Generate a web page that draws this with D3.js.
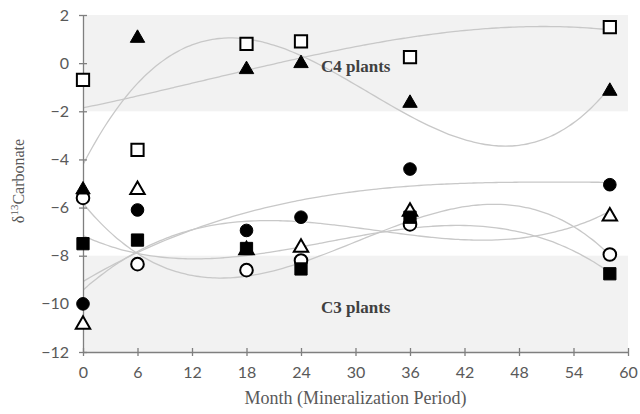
<!DOCTYPE html>
<html>
<head>
<meta charset="utf-8">
<title>d13 Carbonate</title>
<script src="https://cdn.jsdelivr.net/npm/d3@7"></script>
<style>
  body { margin: 0; background: #fff; }
</style>
</head>
<body>
<div id="chart"></div>
<script>

// months of sampling
var months = [0, 6, 18, 24, 36, 58];

// d13C values, one array per series
var openSquares    = [-0.7, -3.6, 0.8, 0.9, 0.25, 1.5];
var filledTriangle = [-5.2, 1.1, -0.2, 0.05, -1.6, -1.1];
var filledCircles  = [-10.0, -6.1, -6.95, -6.4, -4.4, -5.05];
var openCircles    = [-5.6, -8.35, -8.6, -8.2, -6.7, -7.95];
var filledSquares  = [-7.5, -7.35, -7.7, -8.55, -6.4, -8.75];
var openTriangles  = [-10.8, -5.2, -7.7, -7.6, -6.1, -6.3];  // month 18 sits under the filled square

var xTicks = [0, 6, 12, 18, 24, 30, 36, 42, 48, 54, 60];
var yTicks = [-12, -10, -8, -6, -4, -2, 0, 2];

// shaded ranges
var bands = [
  {name: "C4 plants", top: 2, bottom: -2},
  {name: "C3 plants", top: -8, bottom: -12}
];

var series = [
  {values: openTriangles,  shape: "triangle", fill: "#fff"},
  {values: openCircles,    shape: "circle",   fill: "#fff"},
  {values: filledSquares,  shape: "square",   fill: "#000"},
  {values: filledCircles,  shape: "circle",   fill: "#000"},
  {values: filledTriangle, shape: "triangle", fill: "#000"},
  {values: openSquares,    shape: "square",   fill: "#fff"}
];

var width = 640, height = 414;
var margin = {top: 15, right: 12, bottom: 62, left: 83};

var svg = d3.select("#chart").append("svg")
    .attr("width", width)
    .attr("height", height);

var x = d3.scaleLinear().domain([0, 60]).range([margin.left, width - margin.right]);
var y = d3.scaleLinear().domain([-12, 2]).range([height - margin.bottom, margin.top]);

// grey bands
svg.selectAll("rect.band")
  .data(bands)
  .enter().append("rect")
    .attr("class", "band")
    .attr("x", x(0))
    .attr("width", x(60) - x(0))
    .attr("y", function(d) { return y(d.top); })
    .attr("height", function(d) { return y(d.bottom) - y(d.top); })
    .style("fill", "#f2f2f2");

// polynomial (order 3) least squares fit, like a spreadsheet trendline
function polyFit(xs, ys, order) {
  var n = order + 1;
  var A = [], b = [];
  for (var i = 0; i < n; i++) {
    A.push([]);
    b.push(0);
    for (var j = 0; j < n; j++) {
      var s = 0;
      xs.forEach(function(xv) { s += Math.pow(xv, i + j); });
      A[i].push(s);
    }
    xs.forEach(function(xv, k) { b[i] += ys[k] * Math.pow(xv, i); });
  }
  // gaussian elimination
  for (var c = 0; c < n; c++) {
    var p = c;
    for (var r = c + 1; r < n; r++) if (Math.abs(A[r][c]) > Math.abs(A[p][c])) p = r;
    var t = A[c]; A[c] = A[p]; A[p] = t;
    var tb = b[c]; b[c] = b[p]; b[p] = tb;
    for (var r2 = c + 1; r2 < n; r2++) {
      var f = A[r2][c] / A[c][c];
      for (var k2 = c; k2 < n; k2++) A[r2][k2] -= f * A[c][k2];
      b[r2] -= f * b[c];
    }
  }
  var coef = new Array(n).fill(0);
  for (var r3 = n - 1; r3 >= 0; r3--) {
    var s2 = b[r3];
    for (var k3 = r3 + 1; k3 < n; k3++) s2 -= A[r3][k3] * coef[k3];
    coef[r3] = s2 / A[r3][r3];
  }
  return function(xv) {
    var v = 0;
    coef.forEach(function(cf, i) { v += cf * Math.pow(xv, i); });
    return v;
  };
}

var line = d3.line()
    .x(function(d) { return x(d[0]); })
    .y(function(d) { return y(d[1]); })
    .curve(d3.curveBasis);

var clipTop = y(2);
svg.append("clipPath").attr("id", "plot")
  .append("rect")
    .attr("x", x(0)).attr("y", clipTop)
    .attr("width", x(60) - x(0)).attr("height", y(-12) - clipTop);

series.forEach(function(s) {
  var fit = polyFit(months, s.values, 3);
  var pts = d3.range(0, 58.01, 0.5).map(function(m) { return [m, fit(m)]; });
  svg.append("path")
    .datum(pts)
    .attr("d", line)
    .attr("clip-path", "url(#plot)")
    .style("fill", "none")
    .style("stroke", "#c8c8c8")
    .style("stroke-width", 1.3);
});

// axes
var grey = "#595959";
var xAxis = svg.append("g")
    .attr("transform", "translate(0," + y(-12) + ")")
    .call(d3.axisBottom(x).tickValues(xTicks).tickSizeInner(5).tickSizeOuter(0).tickPadding(10));
var yAxis = svg.append("g")
    .attr("transform", "translate(" + x(0) + ",0)")
    .call(d3.axisLeft(y).tickValues(yTicks).tickSizeInner(5).tickSizeOuter(0).tickPadding(9));

[xAxis, yAxis].forEach(function(g) {
  g.select(".domain").style("stroke", "#7f7f7f").style("stroke-width", 1.3);
  g.selectAll(".tick line").style("stroke", "#7f7f7f").style("stroke-width", 1.3);
  g.selectAll(".tick text")
    .style("font-family", "Lato, 'Open Sans', sans-serif")
    .style("font-size", "16px")
    .style("fill", grey);
});
// ticks cross the axis line
xAxis.selectAll(".tick line").attr("y1", -4).attr("y2", 4);
yAxis.selectAll(".tick line").attr("x1", -4).attr("x2", 4);

// markers
var sym = {triangle: d3.symbolTriangle, circle: d3.symbolCircle, square: d3.symbolSquare};
var size = {triangle: 90, circle: 125, square: 150};

series.forEach(function(s) {
  svg.append("g").selectAll("path")
    .data(s.values)
    .enter().append("path")
      .attr("transform", function(d, i) {
        var dy = s.shape === "triangle" ? 1.5 : 0;
        return "translate(" + x(months[i]) + "," + (y(d) + dy) + ")";
      })
      .attr("d", d3.symbol().type(sym[s.shape]).size(size[s.shape]))
      .style("fill", s.fill)
      .style("stroke", "#000")
      .style("stroke-width", s.fill === "#fff" ? 2 : 1);
});

// band labels
svg.selectAll("text.band")
  .data(bands)
  .enter().append("text")
    .attr("class", "band")
    .attr("x", x(26.2))
    .attr("y", function(d) { return y(d.top) + 57; })
    .text(function(d) { return d.name; })
    .style("font-family", "'Liberation Serif', 'DejaVu Serif', serif")
    .style("font-size", "17px").style("font-weight", "bold").style("fill", "#404040");

// axis titles
svg.append("text")
    .attr("x", x(30)).attr("y", 404)
    .attr("text-anchor", "middle")
    .text("Month (Mineralization Period)")
    .style("font-family", "'Liberation Serif', serif")
    .style("font-size", "18px").style("fill", grey);

var yt = svg.append("text")
    .attr("transform", "translate(24,181) rotate(-90)")
    .attr("text-anchor", "middle")
    .style("font-family", "'Liberation Serif', serif")
    .style("font-size", "16px").style("fill", grey);
yt.append("tspan").text("δ");
yt.append("tspan").text("13").attr("dy", -6).style("font-size", "11px");
yt.append("tspan").text("Carbonate").attr("dy", 6);

</script>
</body>
</html>
